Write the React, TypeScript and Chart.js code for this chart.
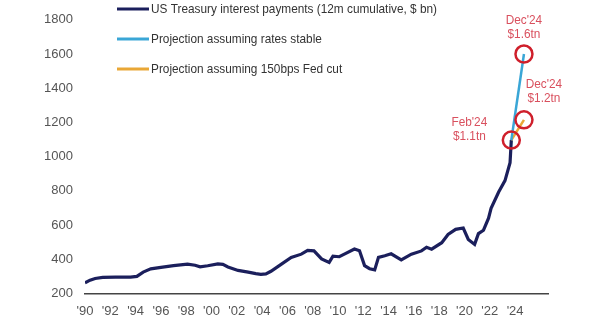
import React, { useEffect, useRef } from "react";
import { Chart, registerables } from "chart.js";

Chart.register(...registerables);

const histYears = [1990.0, 1990.4, 1990.8, 1991.4, 1992.4, 1993.6, 1994.1, 1994.6, 1995.2, 1996.0, 1997.0, 1998.1, 1998.7, 1999.1, 1999.7, 2000.5, 2000.9, 2001.3, 2002.1, 2002.9, 2003.5, 2003.9, 2004.3, 2004.7, 2005.5, 2006.3, 2007.1, 2007.6, 2008.1, 2008.7, 2009.3, 2009.6, 2010.1, 2010.5, 2011.3, 2011.7, 2012.1, 2012.5, 2012.9, 2013.2, 2013.7, 2014.2, 2015.0, 2015.8, 2016.6, 2017.0, 2017.4, 2018.2, 2018.7, 2019.3, 2019.9, 2020.3, 2020.8, 2021.1, 2021.5, 2021.9, 2022.1, 2022.7, 2023.2, 2023.6, 2023.7];
const histValues = [262, 278, 288, 294, 296, 296, 300, 325, 344, 353, 363, 372, 365, 356, 362, 373, 370, 355, 335, 325, 316, 312, 315, 330, 370, 411, 430, 452, 449, 402, 382, 418, 415, 430, 460, 450, 363, 345, 338, 411, 421, 432, 396, 430, 449, 470, 459, 497, 545, 575, 583, 516, 487, 550, 570, 640, 698, 793, 860, 965, 1097];

const stableYears = [2023.7, 2024.7];
const stableValues = [1097, 1600];
const cutYears = [2023.7, 2024.7];
const cutValues = [1097, 1215];

const markYears = [2023.7, 2024.7, 2024.7];
const markValues = [1097, 1600, 1215];
const markTop = ["Feb'24", "Dec'24", "Dec'24"];
const markBottom = ["$1.1tn", "$1.6tn", "$1.2tn"];

const legendLabels = [
  "US Treasury interest payments (12m cumulative, $ bn)",
  "Projection assuming rates stable",
  "Projection assuming 150bps Fed cut",
];

const NAVY = "#1b1f5c";
const BLUE = "#3aa6d6";
const ORANGE = "#e9a736";
const RED = "#cf1f2b";
const PINK = "#d9505e";

const zip = (xs: number[], ys: number[]) => xs.map((x, i) => ({ x, y: ys[i] }));

const overlayPlugin = {
  id: "overlay",
  afterDraw(chart: any) {
    const ctx = chart.ctx;
    const xs = chart.scales.x;
    const ys = chart.scales.y;
    ctx.save();
    const colors = [NAVY, BLUE, ORANGE];
    const rowY = [9, 39, 69];
    ctx.font = "13px 'Liberation Sans', Arial, sans-serif";
    ctx.textBaseline = "middle";
    const k = 286 / ctx.measureText(legendLabels[0]).width;
    legendLabels.forEach((t, i) => {
      ctx.strokeStyle = colors[i];
      ctx.lineWidth = 3;
      ctx.beginPath();
      ctx.moveTo(117, rowY[i]);
      ctx.lineTo(149, rowY[i]);
      ctx.stroke();
      ctx.fillStyle = "#333";
      ctx.save();
      ctx.translate(151, rowY[i] + 0.5);
      ctx.scale(k, 1);
      ctx.textAlign = "left";
      ctx.fillText(t, 0, 0);
      ctx.restore();
    });
    const offs = [
      [-42, -18],
      [0, -34],
      [20, -35],
    ];
    ctx.fillStyle = PINK;
    ctx.textAlign = "center";
    markYears.forEach((yr, i) => {
      const px = xs.getPixelForValue(yr) + offs[i][0];
      const py = ys.getPixelForValue(markValues[i]) + offs[i][1];
      ctx.save();
      ctx.translate(px, py);
      ctx.scale(k, 1);
      ctx.fillText(markTop[i], 0, 0);
      ctx.fillText(markBottom[i], 0, 14);
      ctx.restore();
    });
    ctx.restore();
  },
};

export default function App() {
  const ref = useRef<HTMLCanvasElement>(null);
  useEffect(() => {
    const chart = new Chart(ref.current as HTMLCanvasElement, {
      type: "line",
      data: {
        datasets: [
          {
            data: zip(markYears, markValues),
            showLine: false,
            pointRadius: 8.5,
            pointHoverRadius: 8.5,
            pointBorderWidth: 2.5,
            pointBorderColor: RED,
            pointBackgroundColor: "rgba(0,0,0,0)",
            order: 0,
          },
          {
            data: zip(cutYears, cutValues),
            borderColor: ORANGE,
            borderWidth: 2.5,
            pointRadius: 0,
            order: 2,
          },
          {
            data: zip(stableYears, stableValues),
            borderColor: BLUE,
            borderWidth: 2.5,
            pointRadius: 0,
            order: 1,
          },
          {
            data: zip(histYears, histValues),
            borderColor: NAVY,
            borderWidth: 3.2,
            pointRadius: 0,
            tension: 0,
            order: 3,
          },
        ],
      },
      options: {
        animation: false,
        responsive: false,
        layout: { padding: { left: 0, top: 14, right: 52, bottom: 0 } },
        plugins: { legend: { display: false }, tooltip: { enabled: false } },
        scales: {
          x: {
            type: "linear",
            min: 1990,
            max: 2026.6,
            grid: { display: false, drawTicks: false },
            border: { display: true, color: "#444", width: 1.5 },
            ticks: {
              stepSize: 2,
              autoSkip: false,
              maxRotation: 0,
              padding: 10,
              color: "#555",
              font: { family: "'Liberation Sans', Arial, sans-serif", size: 13 },
              callback: (v: any) => (Number.isInteger(v) && v <= 2024 ? "'" + String(v).slice(2) : ""),
            },
            afterFit: (s: any) => {
              s.height = 41.5;
            },
          },
          y: {
            min: 200,
            max: 1800,
            grid: { display: false, drawTicks: false },
            border: { display: false },
            ticks: {
              stepSize: 200,
              padding: 12,
              color: "#555",
              font: { family: "'Liberation Sans', Arial, sans-serif", size: 13 },
              callback: (v: any) => String(v),
            },
            afterFit: (s: any) => {
              s.width = 85;
            },
          },
        },
      },
      plugins: [overlayPlugin],
    });
    return () => chart.destroy();
  }, []);
  return (
    <div style={{ position: "fixed", left: 0, top: 0, width: 600, height: 335, background: "#fff" }}>
      <canvas ref={ref} width={600} height={335} style={{ display: "block" }} />
    </div>
  );
}
